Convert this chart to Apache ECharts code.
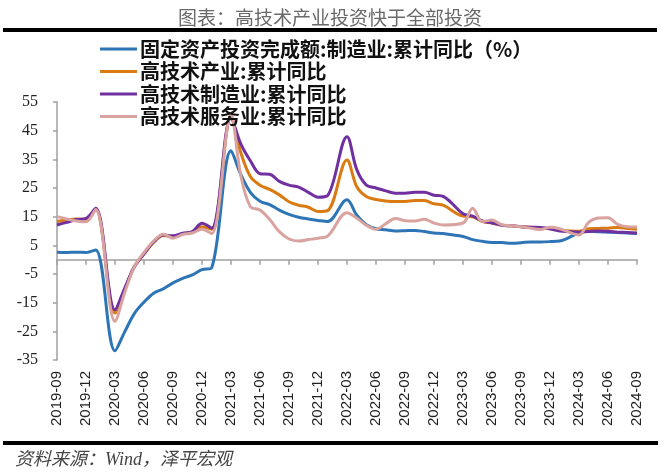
<!DOCTYPE html>
<html>
<head>
<meta charset="utf-8">
<script src="https://cdn.jsdelivr.net/npm/echarts@6/dist/echarts.min.js"></script>
<style>
  html, body { margin: 0; padding: 0; background: #fff; }
  #chart { width: 660px; height: 472px; }
</style>
</head>
<body>
<div id="chart"></div>
<script>
// ---- Data (cumulative YoY, %) ----
const categories = [
  '2019-09','2019-10','2019-11','2019-12',
  '2020-01','2020-02','2020-03','2020-04','2020-05','2020-06','2020-07','2020-08','2020-09','2020-10','2020-11','2020-12',
  '2021-01','2021-02','2021-03','2021-04','2021-05','2021-06','2021-07','2021-08','2021-09','2021-10','2021-11','2021-12',
  '2022-01','2022-02','2022-03','2022-04','2022-05','2022-06','2022-07','2022-08','2022-09','2022-10','2022-11','2022-12',
  '2023-01','2023-02','2023-03','2023-04','2023-05','2023-06','2023-07','2023-08','2023-09','2023-10','2023-11','2023-12',
  '2024-01','2024-02','2024-03','2024-04','2024-05','2024-06','2024-07','2024-08','2024-09'
];

const seriesNames = [
  '固定资产投资完成额:制造业:累计同比（%）',
  '高技术产业:累计同比',
  '高技术制造业:累计同比',
  '高技术服务业:累计同比'
];

const manufacturingFAI = [2.6,2.5,2.6,2.5,3.4,null,-31.8,-25.2,-18.8,-14.8,-11.7,-10.2,-8.1,-6.5,-5.3,-3.5,-2.8,null,38.0,29.8,23.5,20.4,19.2,17.3,15.8,14.8,14.2,13.7,13.3,null,20.9,15.6,12.2,10.8,10.4,10.0,10.1,10.2,9.8,9.3,9.1,null,8.1,7.0,6.4,6.0,6.0,5.7,5.9,6.2,6.2,6.3,6.5,null,9.4,9.9,9.7,9.6,9.5,9.3,9.1];

const hiTechIndustry = [13.3,13.8,14.2,14.0,17.5,null,-18.6,-10.5,-2.5,2.0,6.0,8.4,8.0,9.0,9.6,11.5,10.6,null,49.5,37.5,29.0,26.0,24.5,22.6,20.2,19.0,18.3,16.8,17.1,null,34.8,25.5,22.0,21.0,20.5,20.3,20.3,20.6,20.6,19.5,18.9,null,15.2,15.0,13.3,12.8,12.0,11.8,11.5,11.3,11.0,10.8,10.3,null,9.9,10.8,10.9,11.0,11.2,10.9,10.6];

const hiTechManufacturing = [12.1,13.0,14.0,14.4,17.9,null,-17.5,-10.0,-2.5,2.0,6.3,8.6,8.3,9.2,9.8,12.7,11.0,null,49.5,40.5,34.5,30.0,29.8,27.3,26.0,25.3,23.5,21.8,22.4,null,42.9,31.5,26.0,25.0,24.0,23.2,23.2,23.5,23.5,22.5,22.0,null,16.0,15.2,13.5,12.8,12.0,11.8,11.5,11.3,11.2,10.8,10.0,null,9.6,9.8,10.0,9.9,9.6,9.5,9.3];

const hiTechServices = [15.0,14.2,13.5,13.2,17.5,null,-21.5,-11.5,-2.5,2.5,6.5,8.9,7.5,8.8,9.3,10.6,9.1,null,50.5,29.5,18.5,17.3,14.0,9.8,7.2,6.5,7.0,7.5,8.2,null,16.4,14.5,12.0,10.6,12.5,14.4,13.6,13.5,14.1,12.8,12.1,null,12.8,17.9,13.3,13.8,12.2,11.8,11.5,11.0,10.5,11.3,10.8,null,8.6,13.0,14.5,14.6,12.3,11.5,11.4];

const yTicks = { min: -35, max: 55, interval: 10 };

const colors = ['#2E75B6', '#D97B12', '#7030A0', '#D9A3A0'];

const chart = echarts.init(document.getElementById('chart'), null, { renderer: 'canvas' });

function lineSeries(name, data, color) {
  return {
    name: name,
    type: 'line',
    data: data,
    connectNulls: true,
    smooth: 0.35,
    showSymbol: false,
    symbol: 'none',
    lineStyle: { width: 3, color: color },
    itemStyle: { color: color },
    emphasis: { disabled: true },
    animation: false
  };
}

chart.setOption({
  animation: false,
  backgroundColor: '#fff',
  title: {
    text: '图表：高技术产业投资快于全部投资',
    left: 'center',
    top: 3,
    textStyle: {
      fontFamily: '"Noto Sans CJK SC", sans-serif',
      fontSize: 19,
      fontWeight: 'normal',
      color: '#6a6a6a'
    }
  },
  legend: {
    orient: 'vertical',
    left: 95,
    top: 34,
    itemWidth: 37,
    itemHeight: 3,
    itemGap: 2.5,
    icon: 'rect',
    data: seriesNames,
    textStyle: {
      fontFamily: '"Noto Sans CJK SC", sans-serif',
      fontSize: 20,
      lineHeight: 20,
      fontWeight: 'bold',
      color: '#111',
      padding: [0, 0, 0, -2]
    },
    selectedMode: false
  },
  grid: { left: 57, right: 23, top: 102, bottom: 112, containLabel: false, outerBoundsMode: 'none' },
  xAxis: {
    type: 'category',
    data: categories,
    boundaryGap: false,
    axisLine: { onZero: true, lineStyle: { color: '#a0a0a0', width: 1.5 } },
    axisTick: { show: true, interval: 2, length: 5, lineStyle: { color: '#a0a0a0', width: 1.5 } },
    axisLabel: {
      interval: 2,
      rotate: 90,
      margin: 11,
      hideOverlap: false,
      fontFamily: '"Liberation Sans", Arial, sans-serif',
      fontSize: 15,
      color: '#222'
    },
    splitLine: { show: false }
  },
  yAxis: {
    type: 'value',
    min: yTicks.min,
    max: yTicks.max,
    interval: yTicks.interval,
    axisLine: { show: true, lineStyle: { color: '#a0a0a0', width: 1.5 } },
    axisTick: { show: true, length: 4, lineStyle: { color: '#a0a0a0', width: 1.5 } },
    axisLabel: {
      margin: 19,
      fontFamily: '"Liberation Serif", "Times New Roman", serif',
      fontSize: 16,
      color: '#222'
    },
    splitLine: { show: false }
  },
  series: [
    lineSeries(seriesNames[0], manufacturingFAI, colors[0]),
    lineSeries(seriesNames[1], hiTechIndustry, colors[1]),
    lineSeries(seriesNames[2], hiTechManufacturing, colors[2]),
    lineSeries(seriesNames[3], hiTechServices, colors[3])
  ],
  graphic: [
    { type: 'rect', left: 3, top: 28, shape: { width: 654, height: 4 }, style: { fill: '#000' }, silent: true },
    { type: 'rect', left: 3, top: 441, shape: { width: 655, height: 4 }, style: { fill: '#000' }, silent: true },
    {
      type: 'text', left: 15, top: 451, silent: true,
      style: {
        text: '资料来源：Wind，泽平宏观',
        font: 'italic 18px "Liberation Serif", "Noto Sans CJK SC", serif',
        fill: '#444'
      }
    }
  ]
});
</script>
</body>
</html>
